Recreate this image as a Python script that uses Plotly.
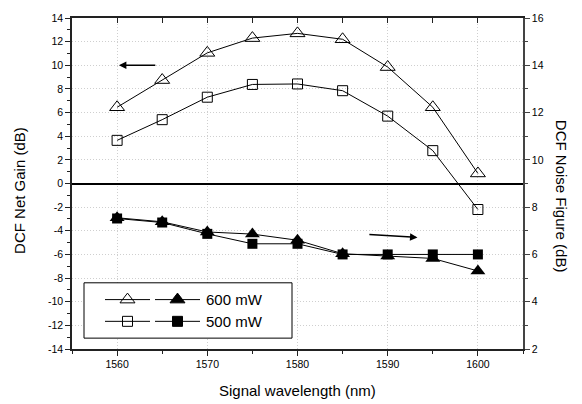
import plotly.graph_objects as go

wavelength = [1560, 1565, 1570, 1575, 1580, 1585, 1590, 1595, 1600]
gain_600 = [6.45, 8.75, 11.05, 12.3, 12.7, 12.2, 9.85, 6.45, 0.85]
gain_500 = [3.65, 5.4, 7.3, 8.38, 8.42, 7.85, 5.7, 2.78, -2.2]
nf_600 = [7.55, 7.38, 6.95, 6.86, 6.6, 6.03, 5.93, 5.83, 5.3]
nf_500 = [7.52, 7.35, 6.87, 6.45, 6.45, 6.0, 6.0, 6.0, 6.0]
labels = ["600 mW", "500 mW"]
gain_ticks = list(range(-14, 15, 2))
gain_ticktext = [str(v) for v in gain_ticks]  # plain hyphen minus like the original

FONT = "Arial, Liberation Sans, sans-serif"
LW = 1

# reference pixel geometry of the plot area
PL, PR, PT, PB = 72, 523, 14, 349

def px(x):
    return (x - PL) / (PR - PL)

def py(y):
    return (PB - y) / (PB - PT)

fig = go.Figure()
fig.add_trace(go.Scatter(x=wavelength, y=gain_600, mode="lines+markers",
    line=dict(color="black", width=LW),
    marker=dict(symbol="triangle-up-open", size=13, color="black", line=dict(width=1)),
    showlegend=False))
fig.add_trace(go.Scatter(x=wavelength, y=gain_500, mode="lines+markers",
    line=dict(color="black", width=LW),
    marker=dict(symbol="square-open", size=10, color="black", line=dict(width=1)),
    showlegend=False))
fig.add_trace(go.Scatter(x=wavelength, y=nf_600, yaxis="y2", mode="lines+markers",
    line=dict(color="black", width=LW),
    marker=dict(symbol="triangle-up", size=13, color="black"),
    showlegend=False))
fig.add_trace(go.Scatter(x=wavelength, y=nf_500, yaxis="y2", mode="lines+markers",
    line=dict(color="black", width=LW),
    marker=dict(symbol="square", size=10, color="black"),
    showlegend=False))
# invisible trace for top axis
fig.add_trace(go.Scatter(x=[wavelength[0]], y=[gain_600[0]], xaxis="x2", mode="markers",
    marker=dict(opacity=0), showlegend=False, hoverinfo="skip"))

# manual legend on pixel overlay axis (x3/y3)
bx0, bx1, by0, by1 = 84, 292, 282, 338
fig.add_trace(go.Scatter(x=[bx0, bx1, bx1, bx0, bx0], y=[by0, by0, by1, by1, by0],
    xaxis="x3", yaxis="y3", mode="lines", fill="toself", fillcolor="white",
    line=dict(color="black", width=1), showlegend=False, hoverinfo="skip"))
rows = [(299, "triangle-up-open", "triangle-up", 13), (321, "square-open", "square", 10)]
for (ry, s_open, s_fill, sz), lab in zip(rows, labels):
    for (lx0, lx1, sym) in [(105, 150, s_open), (155, 200, s_fill)]:
        fig.add_trace(go.Scatter(x=[lx0, lx1], y=[ry, ry], xaxis="x3", yaxis="y3",
            mode="lines", line=dict(color="black", width=LW), showlegend=False, hoverinfo="skip"))
        fig.add_trace(go.Scatter(x=[(lx0 + lx1) / 2], y=[ry], xaxis="x3", yaxis="y3",
            mode="markers", marker=dict(symbol=sym, size=sz, color="black",
            line=dict(width=1, color="black")), showlegend=False, hoverinfo="skip"))
    fig.add_annotation(x=204, y=ry, xref="x3", yref="y3", text=lab, showarrow=False,
        xanchor="left", yanchor="middle", font=dict(size=15, family=FONT, color="black"))

# arrows
fig.add_annotation(x=1560.2, y=10, ax=1564.4, ay=10, xref="x", yref="y", axref="x", ayref="y",
    text="", showarrow=True, arrowhead=2, arrowsize=1, arrowwidth=1.5, arrowcolor="black")
fig.add_annotation(x=1593.3, y=6.72, ax=1587.8, ay=6.85, xref="x", yref="y2", axref="x", ayref="y2",
    text="", showarrow=True, arrowhead=2, arrowsize=1, arrowwidth=1.5, arrowcolor="black")

# axis titles
title_font = dict(size=15, family=FONT, color="black")
fig.add_annotation(x=px(20), y=py(189), xref="paper", yref="paper", text="DCF Net Gain (dB)",
    textangle=-90, showarrow=False, font=title_font, xanchor="center", yanchor="middle")
fig.add_annotation(x=px(561), y=py(194), xref="paper", yref="paper", text="DCF Noise Figure (dB)",
    textangle=90, showarrow=False, font=title_font, xanchor="center", yanchor="middle")
fig.add_annotation(x=px(297.5), y=py(391), xref="paper", yref="paper", text="Signal wavelength (nm)",
    showarrow=False, font=title_font, xanchor="center", yanchor="middle")

tickfont = dict(size=10.5, family=FONT, color="black")
grid = dict(showgrid=True, gridcolor="#cfcfcf", griddash="1px,2px", gridwidth=1)

fig.update_layout(
    width=582, height=404,
    margin=dict(l=PL, r=582 - PR, t=PT, b=404 - PB),
    paper_bgcolor="white", plot_bgcolor="white",
    font=dict(family=FONT, color="black"),
    xaxis=dict(range=[1555, 1605], dtick=10, tick0=1560, ticks="outside", ticklen=5,
        tickcolor="#222", showline=True, linecolor="#222", linewidth=1.5,
        minor=dict(dtick=5, tick0=1560, ticks="outside", ticklen=3, tickcolor="#222", showgrid=False),
        tickfont=tickfont, zeroline=False, **grid),
    xaxis2=dict(range=[1555, 1605], overlaying="x", side="top", anchor="y",
        tickvals=wavelength, ticks="inside", ticklen=5, tickcolor="#222",
        showticklabels=False, showline=True, linecolor="#222", linewidth=1.5, showgrid=False,
        zeroline=False),
    yaxis=dict(range=[-14, 14], tickvals=gain_ticks, ticktext=gain_ticktext,
        ticks="outside", ticklen=5, tickcolor="#222", ticklabeloverflow="allow",
        showline=True, linecolor="#222", linewidth=1.5,
        minor=dict(dtick=1, ticks="outside", ticklen=3, tickcolor="#222", showgrid=False),
        tickfont=tickfont, zeroline=True, zerolinecolor="black", zerolinewidth=1.5,
        **grid),
    yaxis2=dict(range=[2, 16], dtick=2, overlaying="y", side="right", anchor="x",
        ticks="outside", ticklen=5, tickcolor="#444", showline=True, linecolor="#444", linewidth=1.5,
        ticklabeloverflow="allow",
        minor=dict(dtick=1, ticks="outside", ticklen=3, tickcolor="#444", showgrid=False),
        tickfont=tickfont, showgrid=False, zeroline=False),
    xaxis3=dict(range=[PL, PR], overlaying="x", visible=False, anchor="y3"),
    yaxis3=dict(range=[PB, PT], overlaying="y", visible=False, anchor="x3"),
    showlegend=False,
)

fig.write_html("out.html", config={"displayModeBar": False},
    post_script="document.body.style.margin='0px';document.body.style.overflow='hidden';")
